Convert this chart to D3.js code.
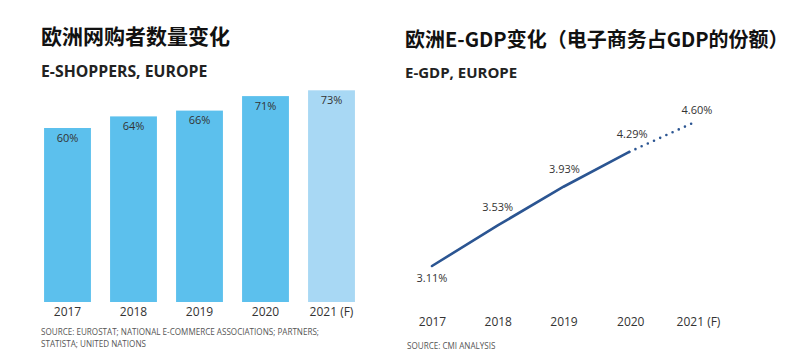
<!DOCTYPE html>
<html><head><meta charset="utf-8">
<script src="https://cdn.jsdelivr.net/npm/d3@7"></script>
<style>
html,body{margin:0;padding:0;background:#fff;}
svg text{font-family:"Open Sans","Noto Sans","Noto Sans CJK SC",sans-serif;}
</style></head>
<body><svg id="c" width="800" height="355"></svg>
<script>
// Left chart data
const shopperYears = ["2017","2018","2019","2020","2021 (F)"];
const shopperValues = [60, 64, 66, 71, 73];
const shopperForecast = [false, false, false, false, true];
const shopperLabels = ["60%","64%","66%","71%","73%"];
// Right chart data
const gdpYears = ["2017","2018","2019","2020","2021 (F)"];
const gdpValues = [3.11, 3.53, 3.93, 4.29, 4.60];
const gdpLabels = ["3.11%","3.53%","3.93%","4.29%","4.60%"];

const svg = d3.select("#c");
const cjk = '"Noto Sans CJK SC","Open Sans",sans-serif';

// ---------- Left: bar chart ----------
const L = svg.append("g");
L.append("text").attr("x",41).attr("y",44).attr("font-size",21).attr("font-weight",700)
  .style("font-family",cjk).attr("fill","#111").text("欧洲网购者数量变化");
L.append("text").attr("x",41).attr("y",77).attr("font-size",15.8).attr("font-weight",700)
  .attr("fill","#222").text("E-SHOPPERS, EUROPE");

const xb = d3.scaleBand().domain(shopperYears).range([34.5, 364.5]).paddingInner(0.29).paddingOuter(0.145);
const yb = d3.scaleLinear().domain([0, 100]).range([302, 12]);

L.selectAll("rect.bar").data(shopperValues).join("rect").attr("class","bar")
  .attr("x",(d,i)=>xb(shopperYears[i])).attr("width",xb.bandwidth())
  .attr("y",d=>yb(d)).attr("height",d=>yb(0)-yb(d))
  .attr("fill",(d,i)=>shopperForecast[i]?"#a8d8f4":"#5cc0ed");
L.selectAll("text.val").data(shopperValues).join("text").attr("class","val")
  .attr("x",(d,i)=>xb(shopperYears[i])+xb.bandwidth()/2).attr("y",d=>yb(d)+13.5)
  .attr("text-anchor","middle").attr("font-size",11).attr("fill","#333")
  .text((d,i)=>shopperLabels[i]);

const xAxisL = L.append("g").attr("transform","translate(0,302)")
  .call(d3.axisBottom(xb).tickSize(0).tickPadding(5));
xAxisL.select(".domain").remove();
xAxisL.selectAll("text").attr("font-size",12).attr("fill","#333").style("font-family",'"Open Sans",sans-serif');

L.append("text").attr("x",41).attr("y",335).attr("font-size",8.1).attr("fill","#555")
  .text("SOURCE: EUROSTAT; NATIONAL E-COMMERCE ASSOCIATIONS; PARTNERS;");
L.append("text").attr("x",41).attr("y",346.5).attr("font-size",8.1).attr("fill","#555")
  .text("STATISTA; UNITED NATIONS");

// ---------- Right: line chart ----------
const R = svg.append("g");
R.append("text").attr("x",405).attr("y",47).attr("font-size",20).attr("font-weight",700)
  .style("font-family",cjk).attr("fill","#111").text("欧洲E-GDP变化（电子商务占GDP的份额）");
R.append("text").attr("x",405).attr("y",78).attr("font-size",15).attr("font-weight",700)
  .attr("fill","#222").text("E-GDP, EUROPE");

const xp = d3.scalePoint().domain(gdpYears).range([432, 695]);
const yp = d3.scaleLinear().domain([3.11, 4.60]).range([266, 122]);

const pts = gdpValues.map((v,i)=>[xp(gdpYears[i]), yp(v)]);
const line = d3.line();
R.append("path").attr("d",line(pts.slice(0,4))).attr("fill","none")
  .attr("stroke","#2b5592").attr("stroke-width",2.6).attr("stroke-linecap","round");
R.append("path").attr("d",line(pts.slice(3,5))).attr("fill","none")
  .attr("stroke","#2b5592").attr("stroke-width",2.6).attr("stroke-linecap","round")
  .attr("stroke-dasharray","0,6.8");

const labDy = [16, -14, -14, -14, -8];
const labDx = [0, 0, 1, 3, 2];
R.selectAll("text.val").data(gdpValues).join("text").attr("class","val")
  .attr("x",(d,i)=>xp(gdpYears[i]) + labDx[i])
  .attr("y",(d,i)=>yp(d)+labDy[i])
  .attr("text-anchor","middle").attr("font-size",11).attr("fill","#333")
  .text((d,i)=>gdpLabels[i]);

const xAxisR = R.append("g").attr("transform","translate(0,314)")
  .call(d3.axisBottom(xp).tickSize(0).tickPadding(3));
xAxisR.select(".domain").remove();
xAxisR.selectAll("text").attr("font-size",12).attr("fill","#333").style("font-family",'"Open Sans",sans-serif')
  .attr("dx",(d,i)=>i===4?3:i===3?1:0);

R.append("text").attr("x",407).attr("y",349).attr("font-size",8.1).attr("fill","#555")
  .text("SOURCE: CMI ANALYSIS");
</script></body></html>
